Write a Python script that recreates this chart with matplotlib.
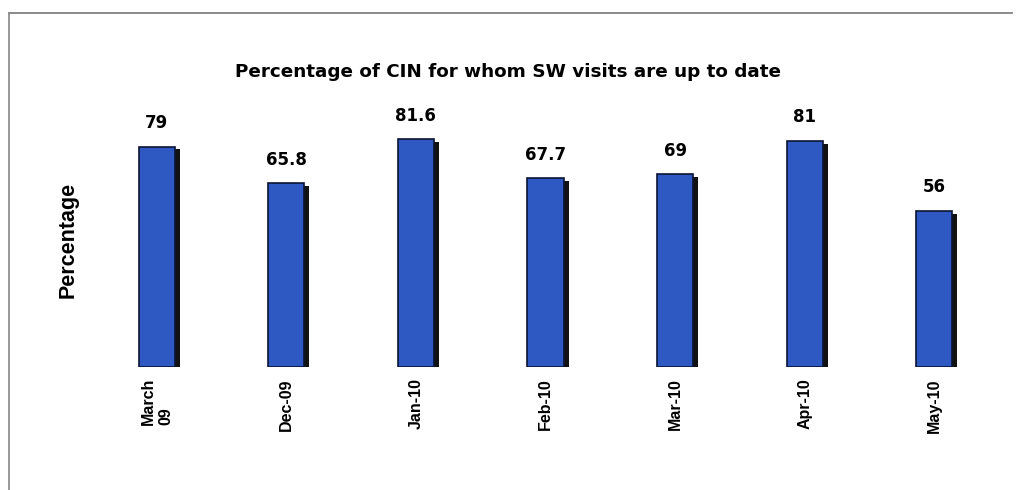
import matplotlib.pyplot as plt
import matplotlib.patheffects as pe
from matplotlib.lines import Line2D
from matplotlib.font_manager import FontProperties

# data
months = ["March\n09", "Dec-09", "Jan-10", "Feb-10", "Mar-10", "Apr-10", "May-10"]
values = [79, 65.8, 81.6, 67.7, 69, 81, 56]
value_labels = ["79", "65.8", "81.6", "67.7", "69", "81", "56"]

plt.rcParams['font.family'] = ['Liberation Sans', 'DejaVu Sans']
arial_b = FontProperties(family='Liberation Sans', weight='bold', size=11.5)
wide_b = FontProperties(family='DejaVu Sans', weight='bold', size=12)

fig = plt.figure(figsize=(10.16, 4.9), dpi=100)
ax = fig.add_axes([92 / 1016, 0.251, 907 / 1016, 0.5694])

x = range(len(months))
bars = ax.bar(x, values, width=0.28, color='#2f59c2', edgecolor='#0a1433', linewidth=1.2)
for b in bars:
    b.set_path_effects([pe.SimplePatchShadow(offset=(3.5, -2), shadow_rgbFace='#050505', alpha=0.95),
                        pe.Normal()])

# the scan is stretched sideways, so a wider face fits the labels better
for xi, v, lab in zip(x, values, value_labels):
    ax.annotate(lab, (xi, v), xytext=(0, 17), textcoords='offset points',
                ha='center', va='center', fontproperties=wide_b)

ax.set_xlim(-0.5, len(months) - 0.5)
ax.set_ylim(0, 100)
ax.set_xticks(list(x))
ax.set_xticklabels(months, rotation=90, fontproperties=arial_b, va='top', ha='center',
                   multialignment='left')
ax.tick_params(axis='x', length=0, pad=8)
ax.set_yticks([])
for s in ax.spines.values():
    s.set_visible(False)

fig.text(68 / 1016, 1 - 240 / 490, "Percentage", rotation=90, ha='center', va='center',
         fontproperties=FontProperties(family='Liberation Sans', weight='bold', size=15.5))
fig.text(0.5, 1 - 72 / 490, "Percentage of CIN for whom SW visits are up to date",
         ha='center', va='center',
         fontproperties=FontProperties(family='DejaVu Sans', weight='bold', size=13.2))

# scan border (top and left edges only)
fig.add_artist(Line2D([9 / 1016, 1012 / 1016], [1 - 13 / 490, 1 - 13 / 490],
                      color='#777777', linewidth=1.2, transform=fig.transFigure))
fig.add_artist(Line2D([9 / 1016, 9 / 1016], [1 - 13 / 490, 0], color='#888888',
                      linewidth=1.2, transform=fig.transFigure))

fig.savefig("out.png", dpi=100)
